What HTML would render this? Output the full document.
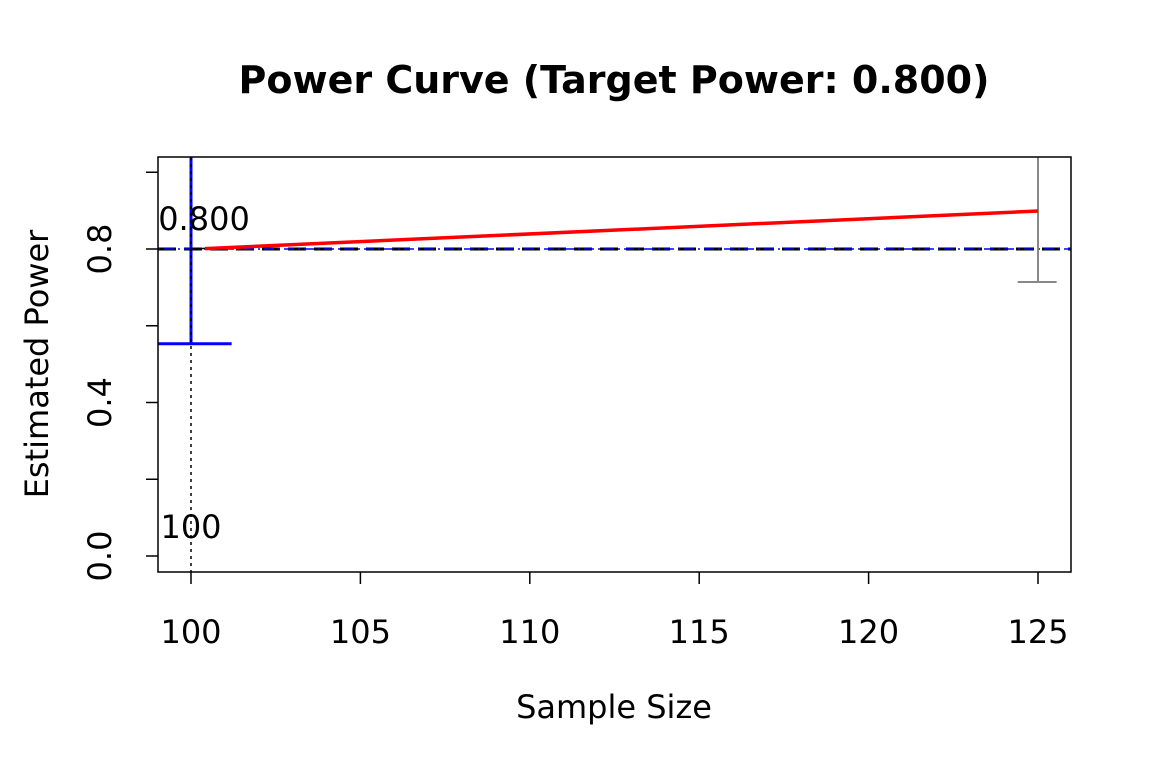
<!DOCTYPE html>
<html><head><meta charset="utf-8"><style>body{margin:0;background:#fff}svg{font-family:"DejaVu Sans","Liberation Sans",sans-serif}</style></head>
<body>
<svg id="c" width="1152" height="768" xmlns="http://www.w3.org/2000/svg">
<rect width="1152" height="768" fill="#fff"/>
<text x="614" y="93" text-anchor="middle" font-size="38" font-weight="bold">Power Curve (Target Power: 0.800)</text>
<text x="614" y="718" text-anchor="middle" font-size="32">Sample Size</text>
<text transform="translate(48,364) rotate(-90)" text-anchor="middle" font-size="32">Estimated Power</text>
<g id="plot"></g>
<rect x="158" y="157" width="913" height="415" fill="none" stroke="#000" stroke-width="1.5"/>
</svg>
<script>
const sampleSizes=[100,125];
const powerValues=[0.80,0.899];
const ciLower=[0.553,0.714];
const ciUpper=[1.2,1.2];
const targetPower=0.8;
const xTicks=[100,105,110,115,120,125];
const yTicks=[0,0.2,0.4,0.6,0.8,1.0];
const yLabels=["0.0","","0.4","","0.8",""];
const NS="http://www.w3.org/2000/svg";
const X=v=>191+(v-100)*33.88;
const Y=v=>556-v*383.75;
const g=document.getElementById('plot');
function el(t,a){const e=document.createElementNS(NS,t);for(const k in a)e.setAttribute(k,a[k]);g.appendChild(e);return e;}
const pTop=157,pBot=572,pLeft=158,pRight=1071;
xTicks.forEach(t=>{
const l=el('line',{x1:X(t),x2:X(t),y1:pBot,y2:pBot+12,stroke:'#000','stroke-width':1.5});


const tx=el('text',{x:X(t),y:643,'text-anchor':'middle','font-size':32});tx.textContent=t;


});
yTicks.forEach((t,i)=>{
const l=el('line',{x1:pLeft,x2:pLeft-12,y1:Y(t),y2:Y(t),stroke:'#000','stroke-width':1.5});


if(yLabels[i]){const tx=el('text',{transform:`translate(111,${Y(t)}) rotate(-90)`,'text-anchor':'middle','font-size':32});tx.textContent=yLabels[i];

}
});
let t1=el('line',{x1:pLeft,x2:pRight,y1:Y(targetPower),y2:Y(targetPower),stroke:'#000','stroke-width':3,'stroke-dasharray':'18 8'});


let t2=el('line',{x1:pLeft,x2:pRight,y1:Y(targetPower),y2:Y(targetPower),stroke:'#00f','stroke-width':1.5,'stroke-dasharray':'2 4 10 4'});


const cols=['#00f','#888'],w=[3,2],cap=[[pLeft,X(101.2)],[X(124.4),X(125.55)]];
sampleSizes.forEach((s,i)=>{
const v=el('line',{x1:X(s),x2:X(s),y1:Math.max(pTop,Y(ciUpper[i])),y2:Y(ciLower[i]),stroke:cols[i],'stroke-width':w[i]});


const c=el('line',{x1:cap[i][0],x2:cap[i][1],y1:Y(ciLower[i]),y2:Y(ciLower[i]),stroke:cols[i],'stroke-width':w[i]});


});
let vd=el('line',{x1:X(sampleSizes[0]),x2:X(sampleSizes[0]),y1:pTop,y2:pBot,stroke:'#000','stroke-width':1.5,'stroke-dasharray':'3 4'});


const pts=sampleSizes.map((s,i)=>X(s)+','+Y(powerValues[i])).join(' ');
let bl=el('polyline',{points:pts,fill:'none',stroke:'#000','stroke-width':1.5});


let rl=el('polyline',{points:(X(sampleSizes[0])+14)+','+Y(powerValues[0]+0.001)+' '+X(sampleSizes[1])+','+Y(powerValues[1]),fill:'none',stroke:'#f00','stroke-width':3.5});


let a1=el('text',{x:204,y:230,'text-anchor':'middle','font-size':32});a1.textContent='0.800';


let a2=el('text',{x:191,y:538,'text-anchor':'middle','font-size':32});a2.textContent='100';


</script>
</body></html>
